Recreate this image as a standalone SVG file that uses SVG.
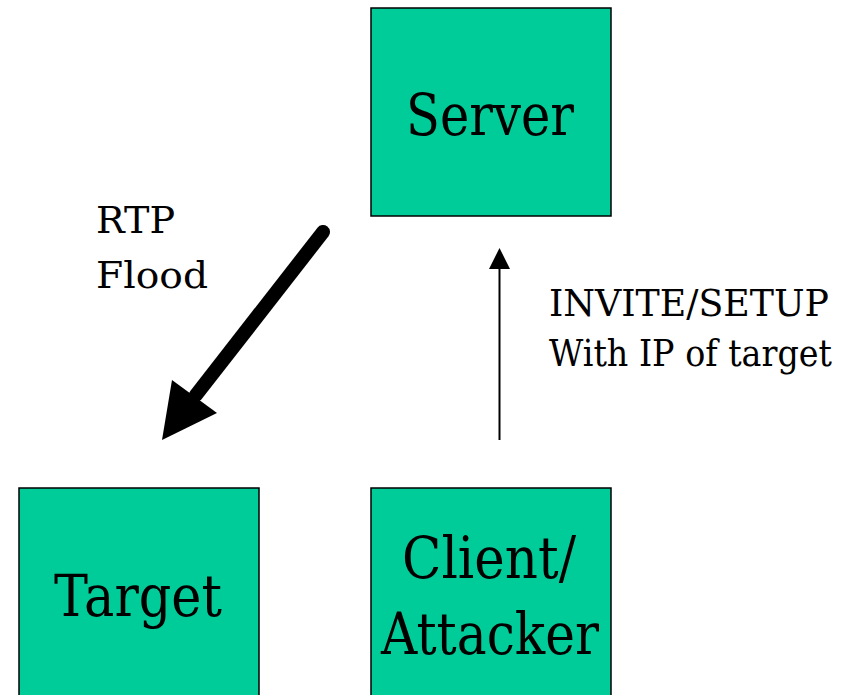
<svg xmlns="http://www.w3.org/2000/svg" width="852" height="695" viewBox="0 0 852 695">
  <style>
    .box { fill: #00CC99; stroke: #000000; stroke-width: 1.5; }
    .big { font-size: 57px; fill: #000000; }
    .lbl { font-size: 38px; fill: #000000; }
  </style>
  <defs>
    <marker id="head-thin" viewBox="0 0 21 21" markerWidth="21" markerHeight="21" refX="0" refY="10.5" orient="auto" markerUnits="userSpaceOnUse">
      <path d="M0,0 L21,10.5 L0,21 Z" fill="#000000"/>
    </marker>
  </defs>
  <rect width="852" height="695" fill="#ffffff"/>

  <g font-family="'DejaVu Serif', 'Liberation Serif', serif">
    <g id="server">
      <rect class="box" x="371" y="8" width="240" height="208"/>
      <text class="big" x="406" y="135" textLength="168" lengthAdjust="spacingAndGlyphs">Server</text>
    </g>

    <g id="target">
      <rect class="box" x="19" y="488" width="240" height="208"/>
      <text class="big" x="54" y="616" textLength="168" lengthAdjust="spacingAndGlyphs">Target</text>
    </g>

    <g id="client">
      <rect class="box" x="371" y="488" width="240" height="208"/>
      <text class="big" x="402" y="578" textLength="174" lengthAdjust="spacingAndGlyphs">Client/</text>
      <text class="big" x="381" y="654" textLength="218" lengthAdjust="spacingAndGlyphs">Attacker</text>
    </g>

    <g id="connectors">
      <!-- RTP flood: server to target, heavy arrow -->
      <line x1="323" y1="232" x2="196" y2="395" stroke="#000000" stroke-width="14" stroke-linecap="round"/>
      <path d="M162,440 L172,380 L217,413 Z" fill="#000000"/>
      <!-- INVITE/SETUP: client up to server -->
      <line x1="499.5" y1="440" x2="499.5" y2="269" stroke="#000000" stroke-width="2" marker-end="url(#head-thin)"/>
    </g>

    <g id="labels">
      <text class="lbl" x="96" y="233" textLength="79" lengthAdjust="spacingAndGlyphs">RTP</text>
      <text class="lbl" x="96" y="288" textLength="112" lengthAdjust="spacingAndGlyphs">Flood</text>
      <text class="lbl" x="549" y="316" textLength="280" lengthAdjust="spacingAndGlyphs">INVITE/SETUP</text>
      <text class="lbl" x="549" y="366" textLength="283" lengthAdjust="spacingAndGlyphs">With IP of target</text>
    </g>
  </g>
</svg>
